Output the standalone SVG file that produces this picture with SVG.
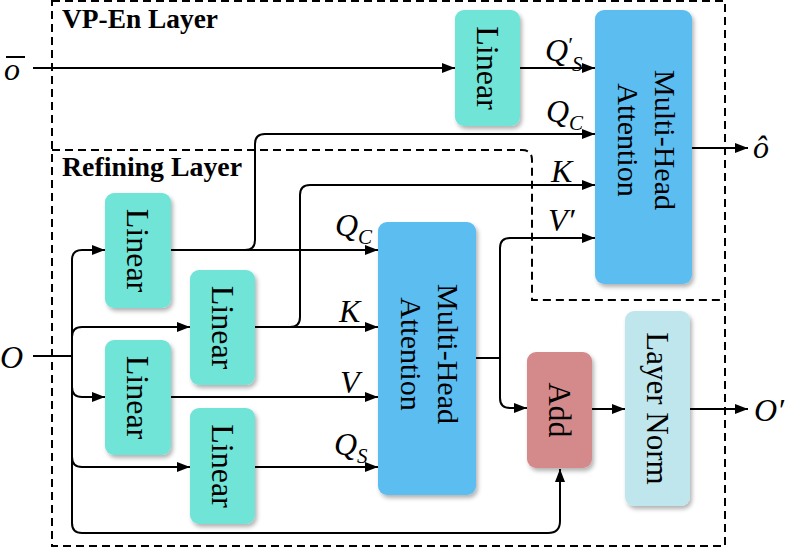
<svg xmlns="http://www.w3.org/2000/svg" width="790" height="548" viewBox="0 0 790 548">
<defs>
<marker id="arr" markerUnits="userSpaceOnUse" markerWidth="14" markerHeight="12" refX="13" refY="5" orient="auto">
<path d="M0,0 L13,5 L0,10 z" fill="#000"/>
</marker>
<filter id="sh" x="-20%" y="-10%" width="140%" height="120%">
<feDropShadow dx="2" dy="3" stdDeviation="2" flood-color="#000" flood-opacity="0.3"/>
</filter>
</defs>
<style>
.dash{fill:none;stroke:#000;stroke-width:2;stroke-dasharray:8 5}
.ln{fill:none;stroke:#000;stroke-width:2}
.ar{marker-end:url(#arr)}
.lin{fill:#6FE4D6;filter:url(#sh)}
.mha{fill:#5BBDF0;filter:url(#sh)}
.add{fill:#D48A8B;filter:url(#sh)}
.lnorm{fill:#BFE6EC;filter:url(#sh)}
.bt{font-family:"Liberation Serif","Times New Roman",serif;fill:#000;text-anchor:middle}
.ttl{font-family:"Liberation Serif","Times New Roman",serif;font-weight:bold;font-size:28px;fill:#000}
.m{font-family:"Liberation Serif","Times New Roman",serif;font-style:italic;font-size:32px;fill:#000}
.sub{font-size:21px}
</style>

<g id="layers">
<rect class="dash" x="52" y="1" width="673" height="545"/>
<path class="dash" d="M52,150 H522 Q532,150 532,160 V300 H725"/>
<text class="ttl" x="62" y="28" textLength="156" lengthAdjust="spacingAndGlyphs">VP-En Layer</text>
<text class="ttl" x="62" y="176" textLength="180" lengthAdjust="spacingAndGlyphs">Refining Layer</text>
</g>

<g id="connectors">
<path class="ln ar" d="M33,68 H455"/>
<path class="ln ar" d="M520,68 H595"/>
<path class="ln ar" d="M245,250 Q255,250 255,240 V144 Q255,134 265,134 H595"/>
<path class="ln ar" d="M171,250 H378"/>
<path class="ln ar" d="M290,327 Q300,327 300,317 V195 Q300,185 310,185 H595"/>
<path class="ln ar" d="M255,327 H378"/>
<path class="ln ar" d="M171,397 H378"/>
<path class="ln ar" d="M255,467 H378"/>
<path class="ln" d="M476,358 H500"/>
<path class="ln ar" d="M500,358 V248 Q500,238 510,238 H595"/>
<path class="ln ar" d="M500,358 V398 Q500,408 510,408 H527"/>
<path class="ln ar" d="M592,409 H625"/>
<path class="ln ar" d="M690,409 H748"/>
<path class="ln ar" d="M692,148 H748"/>
<path class="ln" d="M33,356 H72"/>
<path class="ln ar" d="M72,356 V260 Q72,250 82,250 H105"/>
<path class="ln ar" d="M72,337 Q72,327 82,327 H190"/>
<path class="ln ar" d="M72,387 Q72,397 82,397 H105"/>
<path class="ln ar" d="M72,457 Q72,467 82,467 H190"/>
<path class="ln ar" d="M72,356 V523 Q72,533 82,533 H548 Q560,533 560,521 V469"/>
</g>

<g id="labels">
<line x1="6" y1="57" x2="25" y2="57" stroke="#000" stroke-width="2"/>
<text class="m" x="4" y="80">o</text>
<text class="m" x="0" y="368" font-size="33">O</text>
<text class="m" x="753" y="158">ô</text>
<text class="m" x="754" y="421" font-size="33">O′</text>
<text class="m" x="545" y="61">Q<tspan font-size="22" dx="-1" dy="-9">′</tspan><tspan class="sub" dx="0" dy="19">S</tspan></text>
<text class="m" x="546" y="122">Q<tspan class="sub" dy="8">C</tspan></text>
<text class="m" x="551" y="182">K</text>
<text class="m" x="548" y="231">V′</text>
<text class="m" x="335" y="236">Q<tspan class="sub" dy="8">C</tspan></text>
<text class="m" x="339" y="322">K</text>
<text class="m" x="340" y="393">V</text>
<text class="m" x="334" y="455">Q<tspan class="sub" dy="8">S</tspan></text>
</g>

<g id="linear-top">
<rect class="lin" x="455" y="10" width="65" height="116" rx="9"/>
<text class="bt" font-size="32" transform="translate(487.5,68) rotate(90)" y="11">Linear</text>
</g>
<g id="mha-top">
<rect class="mha" x="595" y="10" width="97" height="274" rx="9"/>
<text class="bt" font-size="30" transform="translate(643.5,140) rotate(90)"><tspan x="0" y="-11">Multi-Head</tspan><tspan x="0" y="26">Attention</tspan></text>
</g>
<g id="linear1">
<rect class="lin" x="105" y="193" width="66" height="115" rx="9"/>
<text class="bt" font-size="32" transform="translate(138,250.5) rotate(90)" y="11">Linear</text>
</g>
<g id="linear2">
<rect class="lin" x="190" y="270" width="65" height="115" rx="9"/>
<text class="bt" font-size="32" transform="translate(222.5,327.5) rotate(90)" y="11">Linear</text>
</g>
<g id="linear3">
<rect class="lin" x="105" y="340" width="66" height="115" rx="9"/>
<text class="bt" font-size="32" transform="translate(138,397.5) rotate(90)" y="11">Linear</text>
</g>
<g id="linear4">
<rect class="lin" x="190" y="408" width="65" height="116" rx="9"/>
<text class="bt" font-size="32" transform="translate(222.5,466) rotate(90)" y="11">Linear</text>
</g>
<g id="mha-refine">
<rect class="mha" x="378" y="222" width="98" height="273" rx="9"/>
<text class="bt" font-size="30" transform="translate(427,354) rotate(90)"><tspan x="0" y="-11">Multi-Head</tspan><tspan x="0" y="26">Attention</tspan></text>
</g>
<g id="add">
<rect class="add" x="527" y="352" width="65" height="116" rx="9"/>
<text class="bt" font-size="32" transform="translate(559.5,410) rotate(90)" y="11">Add</text>
</g>
<g id="layer-norm">
<rect class="lnorm" x="625" y="311" width="65" height="195" rx="9"/>
<text class="bt" font-size="31" transform="translate(657.5,408.5) rotate(90)" y="11">Layer Norm</text>
</g>
</svg>
